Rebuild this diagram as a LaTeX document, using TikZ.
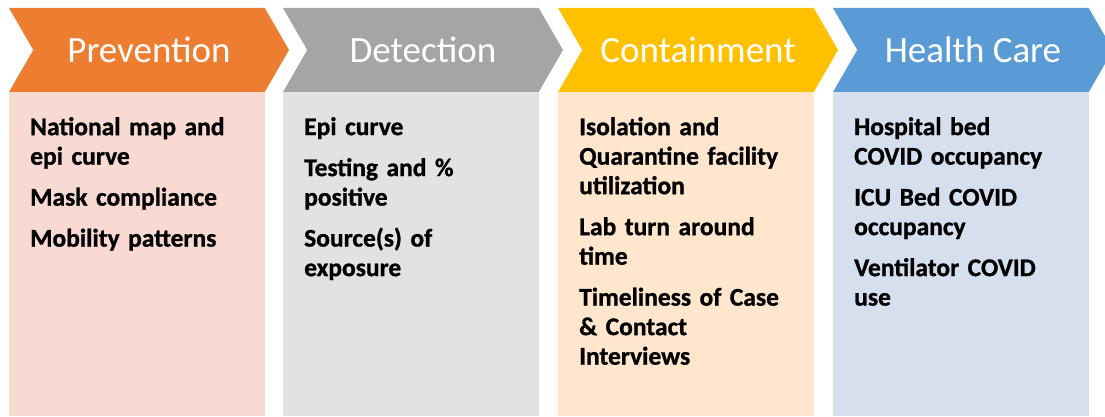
\documentclass[tikz,border=0pt]{standalone}
\usepackage{fontspec}
\setmainfont{Carlito}[BoldFeatures = {FakeBold = 1}]
\newfontfamily\itemfont{Carlito}[WordSpace = 0.6, BoldFeatures = {FakeBold = 1}]
\usetikzlibrary{shapes.symbols}

\definecolor{prevhead}{HTML}{ED7D31}
\definecolor{prevbody}{HTML}{F8DAD3}
\definecolor{dethead}{HTML}{A5A5A5}
\definecolor{detbody}{HTML}{E2E2E2}
\definecolor{conthead}{HTML}{FFC000}
\definecolor{contbody}{HTML}{FFE6CD}
\definecolor{carehead}{HTML}{5B9BD5}
\definecolor{carebody}{HTML}{D6DFEE}

\tikzset{
  stagehead/.style = {signal, signal to = east, signal from = west,
    signal pointer angle = 120, minimum width = 280pt, minimum height = 84pt,
    inner sep = 0pt, outer sep = 0pt, text = white,
    font = \fontsize{37}{40}\selectfont},
  stagebody/.style = {anchor = north west, minimum width = 256pt,
    minimum height = 324pt, inner sep = 0pt, outer sep = 0pt},
  stagetext/.style = {anchor = north west, align = left, inner sep = 0pt,
    text width = 235pt, font = \itemfont\bfseries\fontsize{25.5}{29.5}\selectfont}
}

\begin{document}
\begin{tikzpicture}[x = 1pt, y = -1pt]
  \useasboundingbox (0, 0) rectangle (1105, 417);

  % headers and bodies
  \foreach \name/\x/\head/\body/\title in {
      prev/9/prevhead/prevbody/Prevention,
      det/283/dethead/detbody/Detection,
      cont/558/conthead/contbody/Containment,
      care/833/carehead/carebody/Health Care} {
    \node [stagehead, fill = \head] (\name head) at (\x + 140, 50) {\title};
    \node [stagebody, fill = \body] (\name body) at (\x, 92) {};
  }

  % indicators
  \node [stagetext] (prevtext) at ([xshift = 21pt, yshift = -25pt] prevbody.north west)
    {National map and\\ epi curve\\[11.5pt]
     Mask compliance\\[11.5pt]
     Mobility patterns};
  \node [stagetext] (dettext) at ([xshift = 21pt, yshift = -25pt] detbody.north west)
    {Epi curve\\[11.5pt]
     Testing and \%\\ positive\\[11.5pt]
     Source(s) of\\ exposure};
  \node [stagetext] (conttext) at ([xshift = 21pt, yshift = -25pt] contbody.north west)
    {Isolation and\\ Quarantine facility\\ utilization\\[11.5pt]
     Lab turn around\\ time\\[11.5pt]
     Timeliness of Case\\ \& Contact\\ Interviews};
  \node [stagetext] (caretext) at ([xshift = 21pt, yshift = -25pt] carebody.north west)
    {Hospital bed\\ COVID occupancy\\[11.5pt]
     ICU Bed COVID\\ occupancy\\[11.5pt]
     Ventilator COVID\\ use};
\end{tikzpicture}
\end{document}
